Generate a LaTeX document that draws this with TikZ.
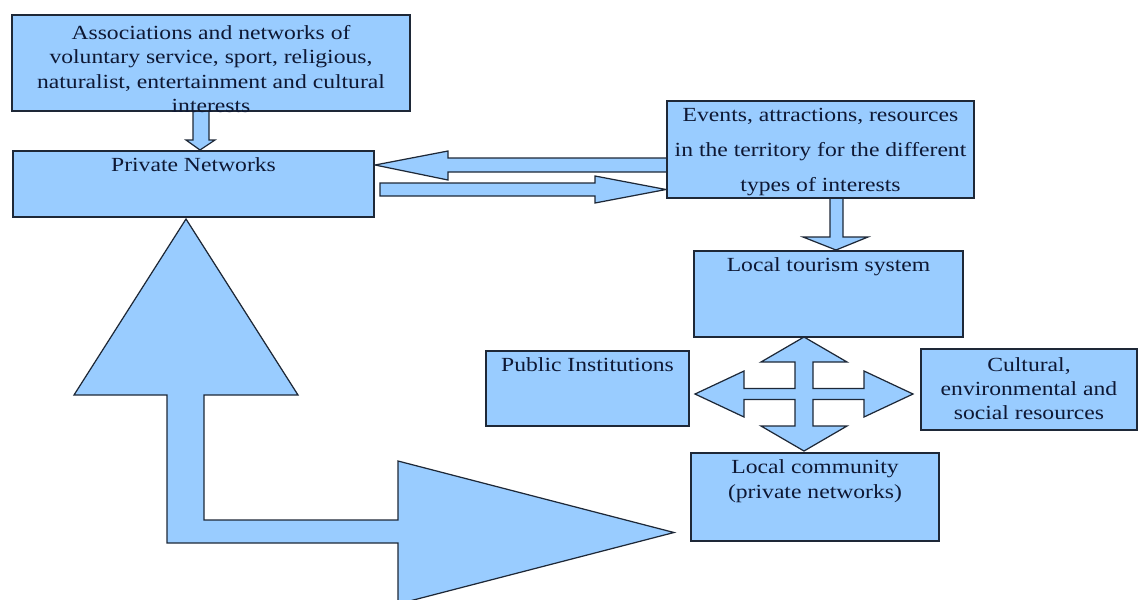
\documentclass[tikz,border=0pt]{standalone}
\usepackage{fontspec}
\setmainfont{Liberation Serif}[FakeStretch=1.18]
\usepackage{xcolor}
\usepackage{tikz}

\definecolor{boxfill}{RGB}{153,204,255}
\definecolor{edge}{RGB}{30,40,55}
\definecolor{ink}{RGB}{14,24,52}

% text of a box: [line skip]{width}{height}{top pad}{lines}
\newcommand{\boxtext}[5][13.5pt]{\parbox[c][#3][t]{#2}{\fontsize{11.4pt}{#1}\selectfont\vspace*{#4}\centering
  \leftskip=-1cm plus 1fil\rightskip=-1cm plus 1fil\relax #5}}

\begin{document}
\begin{tikzpicture}[x=0.02cm,y=-0.02cm]
	\tikzstyle{box}=[rectangle,draw=edge,fill=boxfill,line width=0.7pt,inner sep=0pt,text=ink]
	\tikzstyle{blockarrow}=[draw=edge,fill=boxfill,line width=0.7pt,line join=miter]
	\useasboundingbox (0,0) rectangle (1138,599);

	% block arrows
	\draw[blockarrow] (193,111) -- (193,140) -- (186,140) -- (200,150) -- (215,140) -- (209,140) -- (209,111);
	\draw[blockarrow] (668,158) -- (448,158) -- (448,151) -- (375,165) -- (448,180) -- (448,172) -- (668,172) -- cycle;
	\draw[blockarrow] (380,183) -- (595,183) -- (595,176) -- (666,189.5) -- (595,203) -- (595,196) -- (380,196) -- cycle;
	\draw[blockarrow] (830,198) -- (830,237) -- (803,237) -- (836,250) -- (868,237) -- (843,237) -- (843,198);
	\draw[blockarrow,shift={(804,394)}] (0,-57) -- (43,-32) -- (9,-32) -- (9,-5.5) -- (60,-5.5) -- (60,-23) -- (109,0)
		-- (60,23) -- (60,5.5) -- (9,5.5) -- (9,32) -- (43,32) -- (0,57) -- (-43,32) -- (-9,32) -- (-9,5.5)
		-- (-60,5.5) -- (-60,23) -- (-109,0) -- (-60,-23) -- (-60,-5.5) -- (-9,-5.5) -- (-9,-32) -- (-43,-32) -- cycle;
	\draw[blockarrow] (186,219) -- (298,395) -- (204,395) -- (204,520) -- (398,520) -- (398,461) -- (674,532.5)
		-- (398,604) -- (398,543) -- (167,543) -- (167,395) -- (74,395) -- cycle;

	% boxes
	\node[box] (assoc) at (211,63) {\boxtext[14pt]{7.96cm}{1.92cm}{0.2cm}{Associations and networks of\\ voluntary service, sport, religious,\\ naturalist, entertainment and cultural\\ interests}};
	\node[box] (private) at (193.5,184) {\boxtext{7.22cm}{1.32cm}{0.14cm}{Private Networks}};
	\node[box] (events) at (820.5,149.5) {\boxtext[20pt]{6.14cm}{1.94cm}{0.14cm}{Events, attractions, resources\\ in the territory for the different\\ types of interests}};
	\node[box] (tourism) at (828.5,294) {\boxtext{5.38cm}{1.72cm}{0.14cm}{Local tourism system}};
	\node[box] (public) at (587.5,388.5) {\boxtext{4.06cm}{1.5cm}{0.14cm}{Public Institutions}};
	\node[box] (cultural) at (1029,389.5) {\boxtext{4.32cm}{1.62cm}{0.18cm}{Cultural,\\ environmental and\\ social resources}};
	\node[box] (community) at (815,497) {\boxtext[14.2pt]{4.96cm}{1.76cm}{0.14cm}{Local community\\ (private networks)}};
\end{tikzpicture}
\end{document}
